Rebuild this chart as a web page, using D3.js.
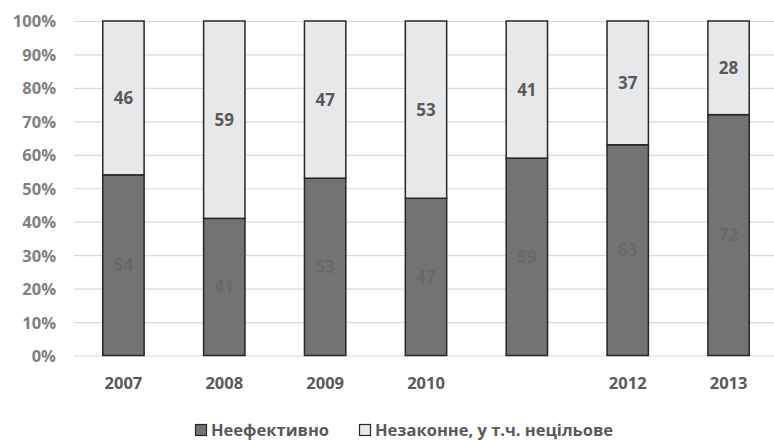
<!DOCTYPE html>
<html>
<head>
<meta charset="utf-8">
<script src="https://cdn.jsdelivr.net/npm/d3@7"></script>
<style>
  body { margin: 0; background: #fff; }
  svg text { font-family: "Open Sans", "Noto Sans", sans-serif; font-weight: 700; }
</style>
</head>
<body>
<svg id="chart"></svg>
<script>
// chart data
const years = ["2007", "2008", "2009", "2010", "2011", "2012", "2013"];
const yearLabels = ["2007", "2008", "2009", "2010", "", "2012", "2013"];
const inefficient = [54, 41, 53, 47, 59, 63, 72];
const illegal = [46, 59, 47, 53, 41, 37, 28];
const seriesNames = ["Неефективно", "Незаконне, у т.ч. нецільове"];
const yTicks = [0, 10, 20, 30, 40, 50, 60, 70, 80, 90, 100];

const W = 774, H = 440;
const svg = d3.select("#chart").attr("width", W).attr("height", H);

const x = d3.scaleBand()
  .domain(years)
  .range([73, 779])
  .paddingInner(0.59)
  .paddingOuter(0.295);

const y = d3.scaleLinear()
  .domain([0, 100])
  .range([355.5, 21]);

// grid lines
const grid = svg.append("g")
  .attr("transform", "translate(74,0)")
  .call(d3.axisLeft(y).tickValues(yTicks).tickSize(-710).tickFormat(""));
grid.selectAll("line").attr("stroke", "#d9d9d9").attr("stroke-width", 1.2);
grid.select(".domain").remove();

// y tick labels
const yAxis = svg.append("g")
  .attr("transform", "translate(56,0)")
  .call(d3.axisLeft(y).tickValues(yTicks).tickSize(0).tickPadding(0).tickFormat(d => d + "%"));
yAxis.select(".domain").remove();
yAxis.selectAll("text")
  .attr("fill", "#7f7f7f")
  .attr("font-size", "16.5px")
  .attr("dy", "0.36em");

// stacked bars
const rows = years.map((yr, i) => ({ year: yr, a: inefficient[i], b: illegal[i] }));
const stacked = d3.stack().keys(["a", "b"])(rows);
const fills = ["#737376", "#e7e8ea"];
const labelColors = ["#68686b", "#595959"];

stacked.forEach((layer, k) => {
  const g = svg.append("g");
  g.selectAll("rect")
    .data(layer)
    .enter().append("rect")
    .attr("x", d => x(d.data.year))
    .attr("width", x.bandwidth())
    .attr("y", d => y(d[1]))
    .attr("height", d => y(d[0]) - y(d[1]))
    .attr("fill", fills[k])
    .attr("stroke", "#262626")
    .attr("stroke-width", 1.5);

  g.selectAll("text")
    .data(layer)
    .enter().append("text")
    .attr("x", d => x(d.data.year) + x.bandwidth() / 2)
    .attr("y", d => (y(d[0]) + y(d[1])) / 2)
    .attr("dy", "0.36em")
    .attr("text-anchor", "middle")
    .attr("fill", labelColors[k])
    .attr("font-size", "17px")
    .text(d => d[1] - d[0]);
});

// x axis labels
const xAxis = svg.append("g")
  .attr("transform", "translate(0,356)")
  .call(d3.axisBottom(x).tickSize(0).tickPadding(0).tickFormat((d, i) => yearLabels[i]));
xAxis.select(".domain").remove();
xAxis.selectAll("text")
  .attr("y", 33)
  .attr("dy", 0)
  .attr("fill", "#595959")
  .attr("font-size", "16.5px");

// legend
const legend = svg.append("g").attr("transform", "translate(0,436)");
const legendX = [195, 359];
seriesNames.forEach((name, k) => {
  legend.append("rect")
    .attr("x", legendX[k] + 0.5)
    .attr("y", -11.5)
    .attr("width", 11)
    .attr("height", 11)
    .attr("fill", fills[k])
    .attr("stroke", "#262626")
    .attr("stroke-width", 1.2);
  legend.append("text")
    .attr("x", legendX[k] + 16)
    .attr("y", 0)
    .attr("fill", "#595959")
    .attr("font-size", "16.5px")
    .text(name);
});
</script>
</body>
</html>
